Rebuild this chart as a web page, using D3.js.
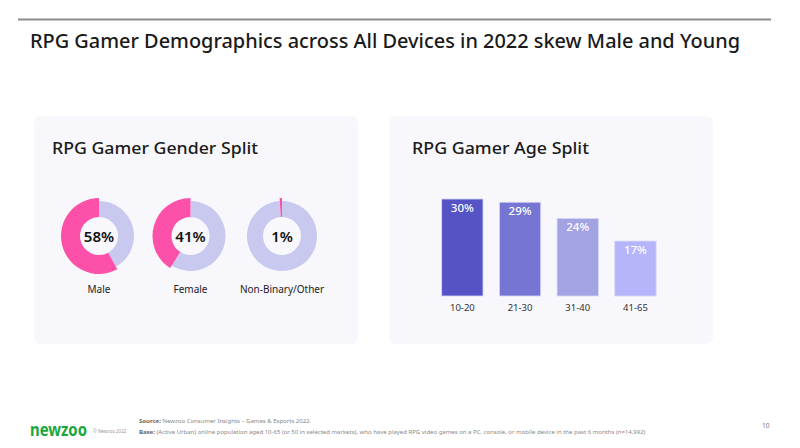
<!DOCTYPE html>
<html>
<head>
<meta charset="utf-8">
<script src="https://cdn.jsdelivr.net/npm/d3@7"></script>
<style>
  body { margin: 0; background: #fff; }
  svg { display: block; font-family: "Noto Sans", sans-serif; }
</style>
</head>
<body>
<script>
// gender split
let genders = ["Male", "Female", "Non-Binary/Other"];
let genderShare = [58, 41, 1];

// age split
let ageGroups = ["10-20", "21-30", "31-40", "41-65"];
let ageShare = [30, 29, 24, 17];
let barColors = ["#5553c5", "#7775d3", "#a3a2e3", "#b5b5fb"];

let width = 800, height = 448;

var svg = d3.select("body").append("svg")
	.attr("width", width)
	.attr("height", height);

// top rule + title
svg.append("line")
	.attr("x1", 18).attr("x2", 771).attr("y1", 19.5).attr("y2", 19.5)
	.attr("stroke", "#8c8c8c").attr("stroke-width", 2);

svg.append("text")
	.attr("x", 30).attr("y", 48)
	.attr("font-size", 19.5)
	.attr("font-weight", 500)
	.attr("fill", "#1a1a1a")
	.attr("textLength", 710)
	.attr("lengthAdjust", "spacingAndGlyphs")
	.text("RPG Gamer Demographics across All Devices in 2022 skew Male and Young");

// panels
let panels = [
	{x: 34, tx: 52, len: 206, title: "RPG Gamer Gender Split"},
	{x: 389, tx: 412, len: 177, title: "RPG Gamer Age Split"}
];
panels.forEach(function (p) {
	svg.append("rect")
		.attr("x", p.x).attr("y", 116)
		.attr("width", 324).attr("height", 228)
		.attr("rx", 7)
		.attr("fill", "#f7f7fc");
	svg.append("text")
		.attr("x", p.tx).attr("y", 154)
		.attr("font-size", 17)
		.attr("font-weight", 500)
		.attr("fill", "#1a1a1a")
		.attr("textLength", p.len)
		.attr("lengthAdjust", "spacingAndGlyphs")
		.text(p.title);
});

// ---- donuts ----
var donutX = d3.scalePoint()
	.domain(genders)
	.range([99, 282]);

var cy = 236;
var pinkArc = d3.arc().innerRadius(19).outerRadius(38);
var greyArc = d3.arc().innerRadius(19).outerRadius(35);

genders.forEach(function (g, i) {
	var v = genderShare[i];
	var a = v / 100 * 2 * Math.PI;
	var grp = svg.append("g")
		.attr("transform", "translate(" + donutX(g) + "," + cy + ")");

	grp.append("path")
		.attr("d", greyArc({startAngle: 0, endAngle: 2 * Math.PI - a}))
		.attr("fill", "#c9c8ef");
	grp.append("path")
		.attr("d", pinkArc({startAngle: -a, endAngle: 0}))
		.attr("fill", "#fd50a9");

	grp.append("text")
		.attr("text-anchor", "middle")
		.attr("y", 5.5)
		.attr("font-size", 15)
		.attr("font-weight", 600)
		.attr("fill", "#111")
		.text(v + "%");

	svg.append("text")
		.attr("x", donutX(g)).attr("y", 293)
		.attr("text-anchor", "middle")
		.attr("font-size", 10)
		.attr("fill", "#222")
		.text(g);
});

// ---- bars ----
var x = d3.scaleBand()
	.domain(ageGroups)
	.range([418.6, 679.2])
	.paddingInner(0.284)
	.paddingOuter(0.4);

var y = d3.scaleLinear()
	.domain([0, 30])
	.range([296, 199]);

var bars = svg.append("g");
bars.selectAll("rect")
	.data(ageShare)
	.enter().append("rect")
	.attr("x", function (d, i) { return x(ageGroups[i]); })
	.attr("y", function (d) { return y(d); })
	.attr("width", x.bandwidth())
	.attr("height", function (d) { return y(0) - y(d); })
	.attr("fill", function (d, i) { return barColors[i]; })
	.attr("stroke", "#d8d8f6")
	.attr("stroke-width", 0.8);

bars.selectAll("text")
	.data(ageShare)
	.enter().append("text")
	.attr("x", function (d, i) { return x(ageGroups[i]) + x.bandwidth() / 2; })
	.attr("y", function (d) { return y(d) + 13; })
	.attr("text-anchor", "middle")
	.attr("font-size", 11.5)
	.attr("font-weight", 500)
	.attr("fill", "#fff")
	.text(function (d) { return d + "%"; });

var xAxis = d3.axisBottom(x).tickSize(0).tickPadding(8);
var axisG = svg.append("g")
	.attr("transform", "translate(0," + y(0) + ")")
	.call(xAxis);
axisG.select(".domain").remove();
axisG.selectAll("text")
	.attr("font-size", 9.5)
	.attr("font-family", "Noto Sans, sans-serif")
	.attr("fill", "#333");

// ---- footer ----
svg.append("text")
	.attr("x", 30).attr("y", 436)
	.attr("font-size", 17)
	.attr("font-weight", 700)
	.attr("fill", "#1aa83a")
	.attr("textLength", 57)
	.attr("lengthAdjust", "spacingAndGlyphs")
	.text("newzoo");

svg.append("text")
	.attr("x", 93).attr("y", 433)
	.attr("font-size", 4.5)
	.attr("fill", "#999")
	.text("© Newzoo 2022");

svg.append("text")
	.attr("x", 139).attr("y", 423)
	.attr("font-size", 6)
	.attr("fill", "#888")
	.html('<tspan font-weight="700" fill="#666">Source:</tspan> Newzoo Consumer Insights – Games &amp; Esports 2022.');

svg.append("text")
	.attr("x", 139).attr("y", 434)
	.attr("font-size", 6)
	.attr("fill", "#888")
	.html('<tspan font-weight="700" fill="#666">Base:</tspan> (Active Urban) online population aged 10-65 (or 50 in selected markets), who have played RPG video games on a PC, console, or mobile device in the past 6 months (n=14,992)');

svg.append("text")
	.attr("x", 762).attr("y", 428)
	.attr("font-size", 6.5)
	.attr("fill", "#777")
	.text("10");
</script>
</body>
</html>
